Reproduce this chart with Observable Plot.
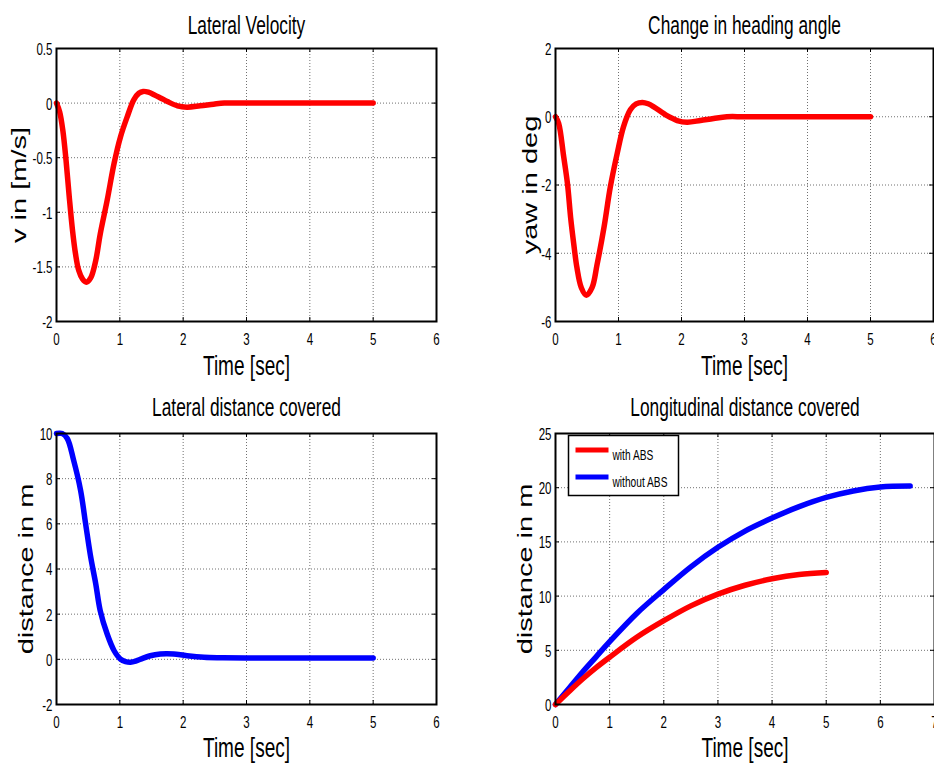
<!DOCTYPE html>
<html>
<head>
<meta charset="utf-8">
<script src="https://cdn.jsdelivr.net/npm/d3@7"></script>
<script src="https://cdn.jsdelivr.net/npm/@observablehq/plot@0.6"></script>
<style>
  html, body { margin: 0; padding: 0; background: white; }
  #root { position: relative; width: 934px; height: 765px; overflow: hidden; background: white; }
  #root svg { position: absolute; }
</style>
</head>
<body>
<div id="root"></div>
<script>
// ---- Data ----
// Lateral velocity (m/s)
const velT = [0, 0.05, 0.1, 0.15, 0.2, 0.25, 0.3, 0.35, 0.41, 0.47, 0.54, 0.62, 0.69, 0.8, 0.91, 1.01, 1.12, 1.22, 1.3, 1.37, 1.45, 1.54, 1.65, 1.75, 1.91, 2.06, 2.27, 2.48, 2.65, 3, 4, 5];
const velV = [0, -0.08, -0.25, -0.52, -0.85, -1.15, -1.38, -1.53, -1.61, -1.64, -1.6, -1.44, -1.2, -0.89, -0.55, -0.31, -0.12, 0.03, 0.09, 0.107, 0.1, 0.077, 0.045, 0.015, -0.025, -0.037, -0.025, -0.01, 0, 0, 0, 0];
// Change in heading angle (deg)
const yawT = [0, 0.05, 0.13, 0.19, 0.24, 0.29, 0.34, 0.41, 0.49, 0.58, 0.66, 0.77, 0.87, 0.98, 1.08, 1.19, 1.28, 1.38, 1.47, 1.56, 1.77, 1.93, 2.09, 2.3, 2.51, 2.72, 3, 4, 5];
const yawV = [0, -0.19, -1.17, -1.96, -2.95, -3.73, -4.42, -5.01, -5.23, -5.01, -4.33, -3.24, -2.06, -1.07, -0.29, 0.21, 0.38, 0.42, 0.38, 0.29, 0.03, -0.11, -0.16, -0.11, -0.05, 0, 0, 0, 0];
// Lateral distance covered (m)
const latT = [0, 0.09, 0.17, 0.27, 0.38, 0.46, 0.54, 0.62, 0.69, 0.8, 0.91, 1.01, 1.09, 1.17, 1.25, 1.33, 1.48, 1.64, 1.75, 1.85, 2.06, 2.33, 2.6, 3, 4, 5];
const latV = [10, 10, 9.78, 8.82, 7.49, 6.0, 4.53, 3.34, 2.16, 1.12, 0.38, 0.01, -0.1, -0.13, -0.08, 0.01, 0.16, 0.24, 0.25, 0.24, 0.16, 0.09, 0.07, 0.06, 0.06, 0.06];
// Longitudinal distance covered (m)
const absT = [0, 0.25, 0.5, 0.75, 1, 1.5, 2, 2.5, 3, 3.5, 4, 4.5, 5];
const absV = [0, 1.2, 2.35, 3.4, 4.36, 6.2, 7.73, 9.1, 10.18, 11.0, 11.6, 12.0, 12.18];
const noAbsT = [0, 0.25, 0.5, 0.75, 1, 1.5, 2, 2.5, 3, 3.5, 4, 4.5, 5, 5.5, 6, 6.55];
const noAbsV = [0, 1.5, 3.0, 4.4, 5.8, 8.4, 10.6, 12.7, 14.5, 16.0, 17.2, 18.25, 19.1, 19.7, 20.06, 20.15];

// Tick values
const xTicks6 = [0, 1, 2, 3, 4, 5, 6];
const xTicks7 = [0, 1, 2, 3, 4, 5, 6, 7];
const velTicks = [-2, -1.5, -1, -0.5, 0, 0.5];
const yawTicks = [-6, -4, -2, 0, 2];
const latTicks = [-2, 0, 2, 4, 6, 8, 10];
const lonTicks = [0, 5, 10, 15, 20, 25];

// Text
const titles = ["Lateral Velocity", "Change in heading angle", "Lateral distance covered", "Longitudinal distance covered"];
const xLabel = "Time [sec]";
const yLabels = ["v in [m/s]", "yaw in deg", "distance in m", "distance in m"];
const seriesNames = ["with ABS", "without ABS"];

const zip = (t, v) => t.map((x, i) => ({t: x, v: v[i]}));
const FONT = "'Liberation Sans', Arial, Helvetica, sans-serif";
const SQUASH = 0.68;

// The reference is horizontally compressed: narrow horizontal text, elongated vertical text.
function squash(svg) {
  d3.select(svg).selectAll("text").each(function () {
    const t = d3.select(this);
    const tr = t.attr("transform") || "";
    t.attr("transform", tr + (/rotate/.test(tr) ? ` scale(1,${SQUASH})` : ` scale(${SQUASH},1)`));
  });
}

function panel({left, top, width, height, mL, mR, mT, mB, xDomain, xTicks, yDomain, yTicks, series, title, titleDy, xlDy, yLabel, ylDx, extra = []}) {
  const fw = width - mL - mR, fh = height - mT - mB;
  const gridStyle = {stroke: "#707070", strokeOpacity: 1, strokeWidth: 1, strokeDasharray: "1,2"};
  const svg = Plot.plot({
    width, height,
    marginLeft: mL, marginRight: mR, marginTop: mT, marginBottom: mB,
    x: {domain: xDomain},
    y: {domain: yDomain},
    style: {fontFamily: FONT, background: "white", color: "black", overflow: "visible"},
    marks: [
      Plot.gridX(xTicks, gridStyle),
      Plot.gridY(yTicks, gridStyle),
      Plot.ruleX(xTicks, {x: d => d, insetTop: fh - 4, stroke: "black"}),
      Plot.ruleX(xTicks, {x: d => d, insetBottom: fh - 4, stroke: "black"}),
      Plot.ruleY(yTicks, {y: d => d, insetRight: fw - 4, stroke: "black"}),
      Plot.ruleY(yTicks, {y: d => d, insetLeft: fw - 4, stroke: "black"}),
      Plot.axisX(xTicks, {tickSize: 0, tickPadding: 11, fontSize: 17, label: null, tickFormat: d => String(d)}),
      Plot.axisY(yTicks, {tickSize: 0, tickPadding: 4, fontSize: 17, label: null, tickFormat: d => String(d), dy: 1}),
      ...series.map(s => Plot.line(s.data, {x: "t", y: "v", stroke: s.color, strokeWidth: 5.5, curve: "catmull-rom", strokeLinejoin: "round"})),
      Plot.frame({stroke: "black", strokeWidth: 2}),
      ...extra,
      Plot.text([title], {frameAnchor: "top", dy: titleDy, fontSize: 25.5, lineAnchor: "middle", textAnchor: "middle", fill: "black"}),
      Plot.text([xLabel], {frameAnchor: "bottom", dy: xlDy, fontSize: 28, lineAnchor: "middle", textAnchor: "middle", fill: "black"}),
      Plot.text([yLabel], {frameAnchor: "left", dx: ylDx, rotate: -90, fontSize: 29, lineAnchor: "middle", textAnchor: "middle", fill: "black"})
    ]
  });
  squash(svg);
  svg.style.left = left + "px";
  svg.style.top = top + "px";
  svg.style.position = "absolute";
  document.getElementById("root").appendChild(svg);
}

// Top-left: Lateral velocity
panel({left: 0, top: 0, width: 467, height: 383, mL: 56, mR: 31, mT: 48, mB: 62,
  xDomain: [0, 6], xTicks: xTicks6, yDomain: [-2, 0.5], yTicks: velTicks,
  series: [{data: zip(velT, velV), color: "#ff0000"}],
  title: titles[0], titleDy: -23, xlDy: 45, yLabel: yLabels[0], ylDx: -37});

// Top-right: heading angle
panel({left: 467, top: 0, width: 467, height: 383, mL: 88, mR: 1, mT: 48, mB: 62,
  xDomain: [0, 6], xTicks: xTicks6, yDomain: [-6, 2], yTicks: yawTicks,
  series: [{data: zip(yawT, yawV), color: "#ff0000"}],
  title: titles[1], titleDy: -23, xlDy: 45, yLabel: yLabels[1], ylDx: -25});

// Bottom-left: lateral distance
panel({left: 0, top: 383, width: 467, height: 382, mL: 56, mR: 31, mT: 50, mB: 61,
  xDomain: [0, 6], xTicks: xTicks6, yDomain: [-2, 10], yTicks: latTicks,
  series: [{data: zip(latT, latV), color: "#0000ff"}],
  title: titles[2], titleDy: -26, xlDy: 44, yLabel: yLabels[2], ylDx: -30});

// Bottom-right: longitudinal distance with legend
const legendMarks = [
  Plot.frame({insetLeft: 13, insetRight: 256, insetTop: 2, insetBottom: 209, fill: "white", stroke: "black", strokeWidth: 1.5}),
  Plot.frame({insetLeft: 20, insetRight: 326, insetTop: 14, insetBottom: 252, fill: "#ff0000", stroke: "none"}),
  Plot.frame({insetLeft: 20, insetRight: 326, insetTop: 41, insetBottom: 225, fill: "#0000ff", stroke: "none"}),
  Plot.text([seriesNames[0]], {frameAnchor: "top-left", dx: 57, dy: 22, fontSize: 15, textAnchor: "start", lineAnchor: "middle", fill: "black"}),
  Plot.text([seriesNames[1]], {frameAnchor: "top-left", dx: 57, dy: 49, fontSize: 15, textAnchor: "start", lineAnchor: "middle", fill: "black"})
];
panel({left: 467, top: 383, width: 467, height: 382, mL: 88, mR: 0, mT: 50, mB: 61,
  xDomain: [0, 7], xTicks: xTicks7, yDomain: [0, 25], yTicks: lonTicks,
  series: [{data: zip(noAbsT, noAbsV), color: "#0000ff"}, {data: zip(absT, absV), color: "#ff0000"}],
  title: titles[3], titleDy: -26, xlDy: 44, yLabel: yLabels[3], ylDx: -30, extra: legendMarks});
</script>
</body>
</html>
